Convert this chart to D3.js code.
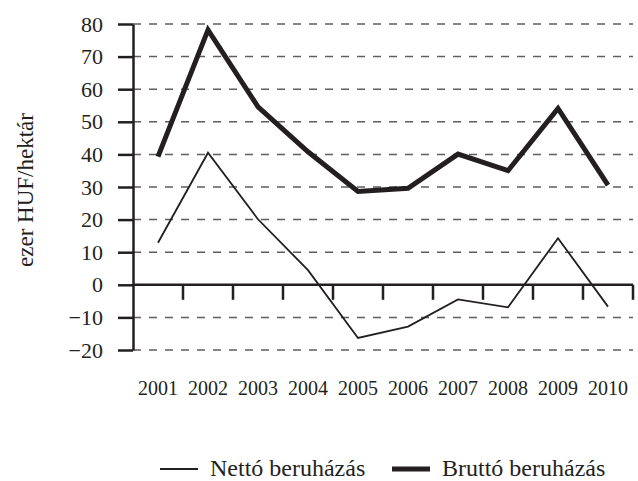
<!DOCTYPE html>
<html lang="en">
<head>
<meta charset="utf-8">
<script src="https://d3js.org/d3.v7.min.js"></script>
<style type="text/css">
body {
	margin: 0;
	background: #fff;
}
svg text {
	font-family: "Liberation Serif", "Times New Roman", Times, serif;
	fill: #231f20;
}
</style>
</head>
<body>
<script type="text/javascript">

// data (ezer HUF/hektár)
var years = ["2001", "2002", "2003", "2004", "2005", "2006", "2007", "2008", "2009", "2010"];
var netto = [12.9, 40.5, 20.1, 4.5, -16.3, -12.8, -4.5, -6.9, 14.3, -6.7];
var brutto = [39.3, 78.2, 54.6, 40.8, 28.6, 29.6, 40.1, 35.0, 54.1, 30.6];
var yTicks = [-20, -10, 0, 10, 20, 30, 40, 50, 60, 70, 80];
var seriesNames = ["Nettó beruházás", "Bruttó beruházás"];

var width = 638;
var height = 481;
var ink = "#231f20";
var serif = "'Liberation Serif', 'Times New Roman', Times, serif";

var svg = d3.select("body")
	.append("svg")
	.attr("width", width)
	.attr("height", height);

var x = d3.scaleBand()
	.domain(years)
	.range([133, 633])
	.padding(0);

var y = d3.scaleLinear()
	.domain([-20, 80])
	.range([350, 24]);

// dashed gridlines (not at zero)
svg.append("g")
	.selectAll("line")
	.data(yTicks.filter(function(d) { return d !== 0; }))
	.enter()
	.append("line")
	.attr("x1", 133)
	.attr("x2", 633)
	.attr("y1", function(d) { return y(d); })
	.attr("y2", function(d) { return y(d); })
	.style("stroke", "#5e5e5e")
	.style("stroke-width", 1.5)
	.style("stroke-dasharray", "8,8");

// y axis
var yAxis = svg.append("g")
	.attr("transform", "translate(133,0)")
	.call(d3.axisLeft(y).tickValues(yTicks).tickSize(15).tickPadding(15).tickSizeOuter(0));
yAxis.attr("font-family", serif).attr("font-size", 22);
yAxis.select(".domain").style("stroke", ink).style("stroke-width", 2.5);
yAxis.selectAll(".tick line").style("stroke", ink).style("stroke-width", 2.5);
yAxis.selectAll(".tick text")
	.style("font-family", serif)
	.style("font-size", "22px")
	.style("fill", ink);

// x axis along zero, ticks at band edges
var xAxis = svg.append("g")
	.attr("transform", "translate(0," + y(0) + ")");
xAxis.append("line")
	.attr("x1", 133)
	.attr("x2", 633)
	.style("stroke", ink)
	.style("stroke-width", 2.5);
xAxis.selectAll(".xtick")
	.data(years)
	.enter()
	.append("line")
	.attr("class", "xtick")
	.attr("x1", function(d) { return x(d) + x.bandwidth(); })
	.attr("x2", function(d) { return x(d) + x.bandwidth(); })
	.attr("y1", 0)
	.attr("y2", 15)
	.style("stroke", ink)
	.style("stroke-width", 2.5);

// year labels below the plot
svg.append("g")
	.selectAll("text")
	.data(years)
	.enter()
	.append("text")
	.attr("x", function(d) { return x(d) + x.bandwidth() / 2; })
	.attr("y", 395)
	.attr("text-anchor", "middle")
	.style("font-family", serif)
	.style("font-size", "20px")
	.text(function(d) { return d; });

// y axis title
svg.append("text")
	.attr("transform", "translate(33,190) rotate(-90)")
	.attr("text-anchor", "middle")
	.style("font-family", serif)
	.style("font-size", "23px")
	.text("ezer HUF/hektár");

var line = d3.line()
	.x(function(d, i) { return x(years[i]) + x.bandwidth() / 2; })
	.y(function(d) { return y(d); });

svg.append("path")
	.datum(netto)
	.attr("d", line)
	.style("fill", "none")
	.style("stroke", ink)
	.style("stroke-width", 1.8);

svg.append("path")
	.datum(brutto)
	.attr("d", line)
	.style("fill", "none")
	.style("stroke", ink)
	.style("stroke-width", 5);

// legend
var legendX = [160, 392];
var legendW = [1.8, 5];
var legend = svg.append("g")
	.selectAll("g")
	.data(seriesNames)
	.enter()
	.append("g")
	.attr("transform", function(d, i) { return "translate(" + legendX[i] + ",469)"; });

legend.append("line")
	.attr("x1", 0)
	.attr("x2", 38)
	.style("stroke", ink)
	.style("stroke-width", function(d, i) { return legendW[i]; });

legend.append("text")
	.attr("x", 50)
	.attr("y", 7)
	.style("font-family", serif)
	.style("font-size", "24px")
	.text(function(d) { return d; });

</script>
</body>
</html>
